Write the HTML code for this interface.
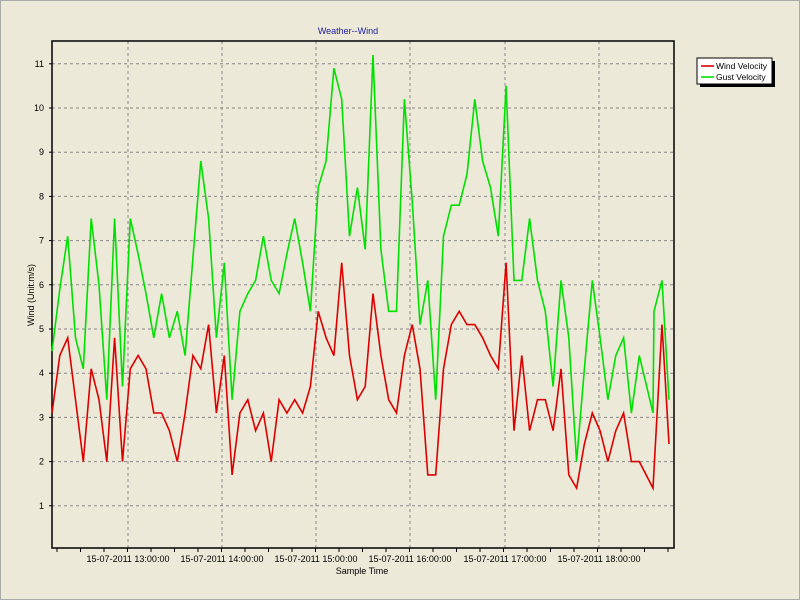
<!DOCTYPE html>
<html><head><meta charset="utf-8"><style>
html,body{margin:0;padding:0;background:#ECE9D8;}
svg{display:block;font-family:"Liberation Sans",sans-serif;}
</style></head><body>
<svg id="s" width="800" height="600" viewBox="0 0 800 600">
<rect x="0" y="0" width="800" height="600" fill="#ECE9D8"/>
<rect x="0.5" y="0.5" width="799" height="599" fill="none" stroke="#aaa"/>
<text x="348" y="34" font-size="9" fill="#1a1aa0" text-anchor="middle">Weather--Wind</text>
<g id="grid" stroke="#888" stroke-dasharray="3,3" stroke-width="1"></g>
<rect x="52" y="41" width="622" height="507" fill="none" stroke="#000" stroke-width="1.5"/>
<g id="ticks" stroke="#000" stroke-width="1"></g>
<g id="labels" font-size="9" fill="#000"></g>
<text x="34" y="295" font-size="9" text-anchor="middle" transform="rotate(-90 34 295)">Wind (Unit:m/s)</text>
<text x="362" y="574" font-size="9" text-anchor="middle">Sample Time</text>
<polyline id="g" fill="none" stroke="#00e000" stroke-width="1.6"/>
<polyline id="r" fill="none" stroke="#dd0000" stroke-width="1.6"/>
<rect x="700" y="61" width="75" height="26" fill="#000"/>
<rect x="697" y="58" width="75" height="26" fill="#fff" stroke="#000" stroke-width="1"/>
<line x1="701" y1="66" x2="714" y2="66" stroke="#dd0000" stroke-width="1.6"/>
<line x1="701" y1="77" x2="714" y2="77" stroke="#00e000" stroke-width="1.6"/>
<text x="716" y="69" font-size="8.5">Wind Velocity</text>
<text x="716" y="80" font-size="8.5">Gust Velocity</text>
</svg>
<script>
var NS="http://www.w3.org/2000/svg";
function el(p,t,a,txt){var e=document.createElementNS(NS,t);for(var k in a)e.setAttribute(k,a[k]);if(txt)e.textContent=txt;document.getElementById(p).appendChild(e);}
function Y(v){return 550-44.2*v;}
for(var v=1;v<=11;v++){el("grid","line",{x1:52,x2:674,y1:Y(v),y2:Y(v)});el("ticks","line",{x1:49,x2:52,y1:Y(v),y2:Y(v)});el("labels","text",{x:44,y:Y(v)+3,"text-anchor":"end"},""+v);}
var hx=[128,222,316,410,505,599],hl=["13","14","15","16","17","18"];
for(var i=0;i<6;i++){el("grid","line",{x1:hx[i],x2:hx[i],y1:41,y2:548});el("labels","text",{x:hx[i],y:562,"text-anchor":"middle"},"15-07-2011 "+hl[i]+":00:00");}
for(var x=57;x<674;x+=23.5){el("ticks","line",{x1:x,x2:x,y1:548,y2:552});}
var G=[4.5,5.9,7.1,4.8,4.1,7.5,6.0,3.4,7.5,3.7,7.5,6.7,5.8,4.8,5.8,4.8,5.4,4.4,6.6,8.8,7.5,4.8,6.5,3.4,5.4,5.8,6.1,7.1,6.1,5.8,6.7,7.5,6.5,5.4,8.2,8.8,10.9,10.2,7.1,8.2,6.8,11.2,6.8,5.4,5.4,10.2,7.9,5.1,6.1,3.4,7.1,7.8,7.8,8.5,10.2,8.8,8.2,7.1,10.5,6.1,6.1,7.5,6.1,5.4,3.7,6.1,4.8,2.0,4.1,6.1,4.8,3.4,4.4,4.8,3.1,4.4];
var R=[3.1,4.4,4.8,3.4,2.0,4.1,3.4,2.0,4.8,2.0,4.1,4.4,4.1,3.1,3.1,2.7,2.0,3.1,4.4,4.1,5.1,3.1,4.4,1.7,3.1,3.4,2.7,3.1,2.0,3.4,3.1,3.4,3.1,3.7,5.4,4.8,4.4,6.5,4.4,3.4,3.7,5.8,4.4,3.4,3.1,4.4,5.1,4.1,1.7,1.7,4.1,5.1,5.4,5.1,5.1,4.8,4.4,4.1,6.5,2.7,4.4,2.7,3.4,3.4,2.7,4.1,1.7,1.4,2.4,3.1,2.7,2.0,2.7,3.1,2.0,2.0];
function pts(a,tail){var s=[];for(var i=0;i<a.length;i++)s.push((52+7.83*i).toFixed(1)+","+Y(a[i]).toFixed(1));tail.forEach(function(t){s.push(t[0]+","+Y(t[1]).toFixed(1));});return s.join(" ");}
document.getElementById("g").setAttribute("points",pts(G,[[653,3.1],[654,5.4],[662,6.1],[669,3.4]]));
document.getElementById("r").setAttribute("points",pts(R,[[653,1.4],[662,5.1],[669,2.4]]));
</script>
</body></html>
